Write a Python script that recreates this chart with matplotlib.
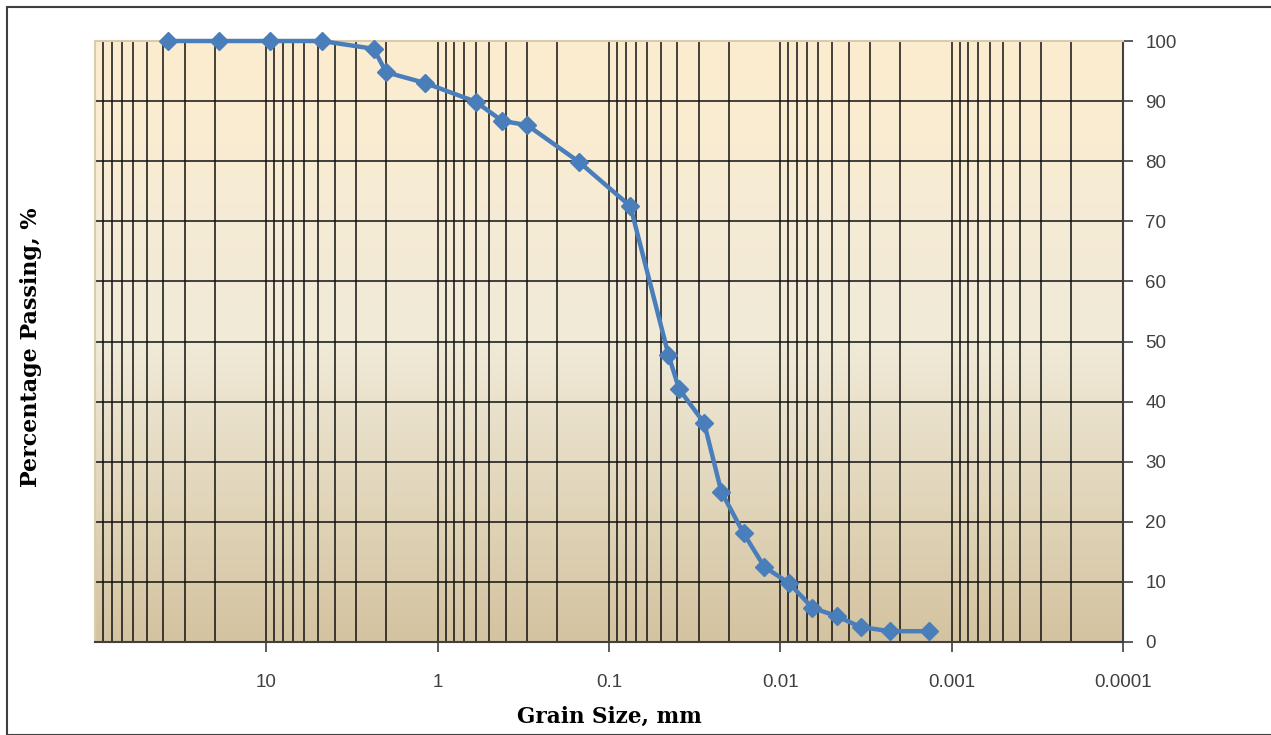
import numpy as np
import matplotlib.pyplot as plt
from matplotlib.colors import LinearSegmentedColormap
from matplotlib.patches import Rectangle

# sieve / hydrometer results
grain_size = [37.5, 19.0, 9.5, 4.75, 2.36, 2.0, 1.18, 0.6, 0.42, 0.30, 0.15, 0.075,
              0.045, 0.039, 0.0278, 0.0221, 0.0164, 0.0124, 0.0089, 0.0065,
              0.0047, 0.0034, 0.0023, 0.00135]
passing = [100, 100, 100, 100, 98.7, 94.8, 93.0, 89.9, 86.7, 86.0, 79.9, 72.5,
           47.8, 42.1, 36.4, 25.0, 18.1, 12.5, 9.8, 5.7, 4.3, 2.5, 1.8, 1.8]
x_ticks = [10, 1, 0.1, 0.01, 0.001, 0.0001]
x_labels = ["10", "1", "0.1", "0.01", "0.001", "0.0001"]
y_ticks = list(range(0, 101, 10))

fig = plt.figure(figsize=(12.71, 7.35), dpi=100)
fig.patches.append(Rectangle((7 / 1271, 0), 1, 1 - 7 / 735, transform=fig.transFigure,
                             fill=False, edgecolor="#404040", linewidth=1.5))
ax = fig.add_axes([95 / 1271, 1 - 642 / 735, (1123 - 95) / 1271, (642 - 41) / 735])

cmap = LinearSegmentedColormap.from_list(
    "bg", [(0, "#FDEDCF"), (0.5, "#F0EAD8"), (1, "#D4C3A0")])
grad = np.linspace(0, 1, 256).reshape(-1, 1)
ax.imshow(grad, cmap=cmap, extent=[0, 1, 0, 1], transform=ax.transAxes,
          aspect="auto", zorder=0)

ax.set_xscale("log")
ax.set_xlim(100, 0.0001)
ax.set_ylim(0, 100)

ax.set_xticks(x_ticks)
ax.set_xticklabels(x_labels)
ax.xaxis.set_minor_locator(plt.matplotlib.ticker.LogLocator(base=10, subs=np.arange(2, 10)))
ax.xaxis.set_minor_formatter(plt.NullFormatter())
ax.set_yticks(y_ticks)
ax.yaxis.tick_right()

ax.grid(True, which="both", axis="x", color="#111111", linewidth=1.1, zorder=1)
ax.grid(True, which="major", axis="y", color="#111111", linewidth=1.1, zorder=1)
ax.set_axisbelow(True)

ax.tick_params(axis="x", which="major", direction="out", length=7, width=1.2,
               color="#404040", labelsize=13.5, labelcolor="#404040", pad=16)
ax.tick_params(axis="x", which="minor", length=0)
ax.tick_params(axis="y", direction="out", length=7, width=1.2, color="#404040",
               labelsize=13.5, labelcolor="#404040", pad=9)
for lab in ax.get_xticklabels() + ax.get_yticklabels():
    lab.set_fontfamily("Liberation Sans")

for side in ["bottom", "right"]:
    ax.spines[side].set_color("#404040")
    ax.spines[side].set_linewidth(1.5)
for side in ["top", "left"]:
    ax.spines[side].set_color("#D8CBAE")
    ax.spines[side].set_linewidth(1.5)

ax.plot(grain_size, passing, color="#4A7EBB", linewidth=3.2, marker="D",
        markersize=9.5, zorder=3, clip_on=False)

ax.set_xlabel("Grain Size, mm", family="DejaVu Serif", fontweight="bold",
              fontsize=15.5, labelpad=11)
fig.text(0.024, 1 - 347 / 735, "Percentage Passing, %", family="DejaVu Serif",
         fontweight="bold", fontsize=16, rotation=90, ha="center", va="center")

fig.savefig("out.png", dpi=100)
